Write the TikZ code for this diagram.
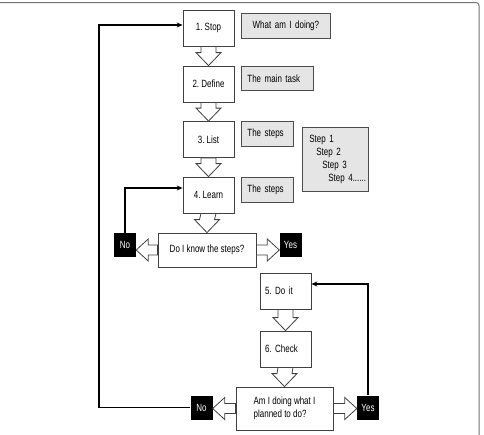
\documentclass[tikz,border=0pt]{standalone}
\usepackage{fontspec}
\setmainfont{Liberation Sans}[FakeStretch=0.76]
\usetikzlibrary{calc,arrows.meta}
\frenchspacing

\tikzset{
  stepbox/.style={draw=black!75, fill=white, line width=0.8pt, minimum width=51pt, minimum height=36pt, inner sep=5pt, font=\fontsize{10.5}{12.5}\selectfont},
  notebox/.style={draw=black!70, fill=black!10, line width=0.8pt, anchor=north west, align=left, inner sep=6pt, font=\fontsize{10.5}{12.5}\selectfont},
  askbox/.style={draw=black!75, fill=white, line width=0.8pt, font=\fontsize{10.5}{13}\selectfont},
  answer/.style={fill=black, text=white, minimum width=22pt, minimum height=24pt, inner sep=1pt, font=\fontsize{10.5}{12.5}\selectfont},
  hollow/.style={draw=black!75, fill=white, line width=0.8pt, line join=miter},
  back/.style={draw=black, line width=1.4pt, -{Stealth[length=6pt,width=5pt]}},
}

% fat hollow arrow from one box down to the next
\newcommand{\fatdown}[2]{
  \draw[hollow] ($(#1.south)+(-7.5,0)$) -- ($(#2.north)+(-7.5,-13)$) -- ++(-5,0) -- (#2.north)
    -- ++(12.5,-13) -- ++(-5,0) -- ($(#1.south)+(7.5,0)$) -- cycle;
}
% fat hollow arrow out of a question box, sideways
\newcommand{\fatside}[4]{
  \coordinate (tip) at (#3.#4 |- #1.#2);
  \coordinate (src) at (#1.#2);
  \draw[hollow] ($(src)+(0,-5)$) -- ($(tip)!12pt!(src)+(0,-5)$) -- ($(tip)!12pt!(src)+(0,-11)$) -- (tip)
    -- ($(tip)!12pt!(src)+(0,11)$) -- ($(tip)!12pt!(src)+(0,5)$) -- ($(src)+(0,5)$) -- cycle;
}

\begin{document}
\begin{tikzpicture}[x=1pt, y=-1pt]
  \useasboundingbox (0,0) rectangle (484,434);
  \draw[black!55, line width=1pt, rounded corners=3pt] (0,2.5) -- (479,2.5) -- (479,440);

  % steps
  \node[stepbox] (s1) at (208.5,28) {1. Stop};
  \node[stepbox] (s2) at (208.5,84) {2. Define};
  \node[stepbox] (s3) at (208.5,139.5) {3. List};
  \node[stepbox] (s4) at (208.5,195) {4. Learn};
  \node[stepbox, text width=41pt, align=left] (s5) at (285.5,291) {5. Do it};
  \node[stepbox, text width=41pt, align=left] (s6) at (285.5,349) {6. Check};

  % notes
  \node[notebox, text width=77pt, minimum height=25pt, align=center] (n1) at (241,13) {What am I doing?};
  \node[notebox, text width=60pt, minimum height=24pt] (n2) at (241,66) {The main task};
  \node[notebox, text width=40pt, minimum height=25pt] (n3) at (241,121) {The steps};
  \node[notebox, text width=40pt, minimum height=25pt] (n4) at (241,177) {The steps};
  \node[notebox, text width=52pt, minimum height=64pt, inner sep=7pt, font=\fontsize{10.5}{13}\selectfont] (list) at (302,127)
    {Step 1\\\hspace*{7pt}Step 2\\\hspace*{13pt}Step 3\\\mbox{\hspace*{19pt}Step 4......}};

  % questions
  \node[askbox, minimum width=98pt, minimum height=34pt] (q1) at (207,250) {Do I know the steps?};
  \node[askbox, minimum width=97pt, minimum height=43pt, align=left] (q2) at (284.5,408.5) {Am I doing what I\\planned to do?};

  \node[answer] (no1) at (125,245) {No};
  \node[answer] (yes1) at (290.5,245) {Yes};
  \node[answer] (no2) at (201.5,407.5) {No};
  \node[answer] (yes2) at (368,407.5) {Yes};

  \fatdown{s1}{s2}
  \fatdown{s2}{s3}
  \fatdown{s3}{s4}
  \fatdown{s4}{q1}
  \fatdown{s5}{s6}
  \fatdown{s6}{q2}

  \fatside{q1}{west}{no1}{east}
  \fatside{q1}{east}{yes1}{west}
  \fatside{q2}{west}{no2}{east}
  \fatside{q2}{east}{yes2}{west}

  % loops back
  \coordinate (edge) at (99,0);
  \draw[back] (no1.north) |- ([yshift=7pt]s4.west);
  \draw[back] (no2.west) -- (no2.west -| edge) |- ([yshift=3pt]s1.west);
  \draw[back] (yes2.north) |- ([yshift=7pt]s5.east);
\end{tikzpicture}
\end{document}
